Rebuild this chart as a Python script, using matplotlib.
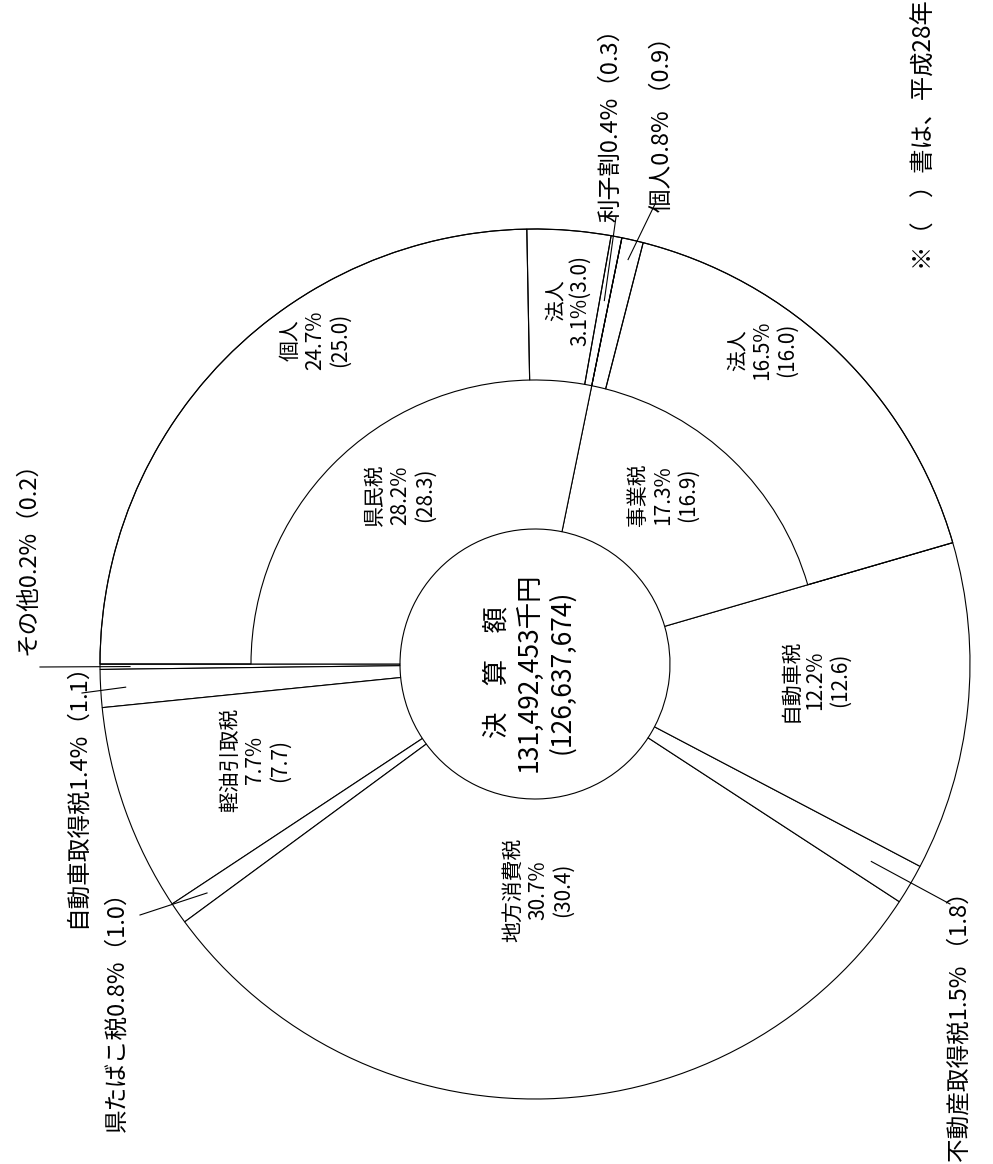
import numpy as np
import matplotlib.pyplot as plt

plt.rcParams['font.family'] = ['Noto Sans CJK JP', 'DejaVu Sans']

W, H = 993, 1164

# top level items, counterclockwise starting from the left horizontal line
names = ['その他', '自動車取得税', '軽油引取税', '県たばこ税', '地方消費税',
         '不動産取得税', '自動車税', '事業税', '県民税']
share = [0.2, 1.4, 7.7, 0.8, 30.7, 1.5, 12.2, 17.3, 28.2]
prev = [0.2, 1.1, 7.7, 1.0, 30.4, 1.8, 12.6, 16.9, 28.3]

# breakdown of 事業税 and 県民税 (outer ring)
sub_names = ['法人', '個人', '利子割', '法人', '個人']
sub_share = [16.5, 0.8, 0.4, 3.1, 24.7]
sub_prev = [16.0, 0.9, 0.3, 3.0, 25.0]

total = '131,492,453'
total_prev = '126,637,674'
note = '※（　）書は、平成28年'

# geometry in image pixels (y measured from the top)
cx, cy = 535, 664
R, R_mid, R_in = 435, 284, 135
lw = 0.8


def yy(y):
    return H - y


fig = plt.figure(figsize=(W / 100, H / 100), dpi=100)
ax = fig.add_axes([0, 0, 1, 1])

start = 180
ax.pie(np.array(share) / 100, normalize=False, radius=R, center=(cx, yy(cy)),
       startangle=start, counterclock=True, frame=True,
       wedgeprops=dict(width=R - R_in, facecolor='white', edgecolor='black', linewidth=lw))

sub_start = start + 360 * sum(share[:7]) / 100
ax.pie(np.array(sub_share) / 100, normalize=False, radius=R, center=(cx, yy(cy)),
       startangle=sub_start, counterclock=True, frame=True,
       wedgeprops=dict(width=R - R_mid, facecolor='none', edgecolor='black', linewidth=lw))

ax.set_xlim(0, W)
ax.set_ylim(0, H)
ax.set_aspect('equal')
ax.axis('off')

# mid angles of each slice
edges = start + 360 * np.concatenate([[0], np.cumsum(share)]) / 100
mids = (edges[:-1] + edges[1:]) / 2
sub_edges = sub_start + 360 * np.concatenate([[0], np.cumsum(sub_share)]) / 100
sub_mids = (sub_edges[:-1] + sub_edges[1:]) / 2

fs_in = 15
fs_out = 17

# labels inside the slices
inner = [
    (8, f'{names[8]}\n{share[8]}%\n({prev[8]})', (400, 495)),
    (7, f'{names[7]}\n{share[7]}%\n({prev[7]})', (663, 495)),
    (6, f'{names[6]}\n{share[6]}%\n({prev[6]})', (815, 680)),
    (4, f'{names[4]}\n{share[4]}%\n({prev[4]})', (538, 890)),
    (2, f'{names[2]}\n{share[2]}%\n({prev[2]})', (255, 760)),
]
for i, txt, (x, y) in inner:
    ax.text(x, yy(y), txt, rotation=90, ha='center', va='center',
            fontsize=fs_in, linespacing=1.15)

sub_inner = [
    (4, f'{sub_names[4]}\n{sub_share[4]}%\n({sub_prev[4]})', (315, 340)),
    (3, f'{sub_names[3]}\n{sub_share[3]}%({sub_prev[3]})', (568, 300)),
    (0, f'{sub_names[0]}\n{sub_share[0]}%\n({sub_prev[0]})', (762, 350)),
]
for i, txt, (x, y) in sub_inner:
    ax.text(x, yy(y), txt, rotation=90, ha='center', va='center',
            fontsize=fs_in, linespacing=1.15)

ax.text(529, yy(672), f'決　算　額\n{total}千円\n({total_prev})', rotation=90,
        ha='center', va='center', fontsize=19, linespacing=1.25)


def leader(angle, r, outer):
    a = np.deg2rad(angle)
    x0 = cx + r * np.cos(a)
    y0 = yy(cy) + r * np.sin(a)
    ax.plot([outer[0], x0], [yy(outer[1]), y0], color='black', lw=lw)


# labels outside with leader lines: text, x, y, va, leader start, radius
outside = [
    (mids[0], f'{names[0]}{share[0]}%（{prev[0]}）', 28, 655, 'bottom', (40, 667), 405),
    (mids[1], f'{names[1]}{share[1]}%（{prev[1]}）', 77, 928, 'bottom', (82, 693), 410),
    (mids[3], f'{names[3]}{share[3]}%（{prev[3]}）', 117, 880, 'top', (140, 915), 400),
    (mids[5], f'{names[5]}{share[5]}% （{prev[5]}）', 960, 1162, 'bottom', (950, 904), 390),
    (sub_mids[2], f'{sub_names[2]}{sub_share[2]}%（{sub_prev[2]}）', 611, 222, 'bottom', (616, 217), 370),
    (sub_mids[1], f'{sub_names[1]}{sub_share[1]}% （{sub_prev[1]}）', 662, 212, 'bottom', (656, 202), 415),
]
for ang, txt, x, y, va, p, r in outside:
    ax.text(x, yy(y), txt, rotation=90, ha='center', va=va, fontsize=fs_out)
    leader(ang, r, p)

ax.text(925, yy(270), note, rotation=90, ha='center', va='bottom', fontsize=17.5)

fig.savefig('out.png', dpi=100, facecolor='white')
